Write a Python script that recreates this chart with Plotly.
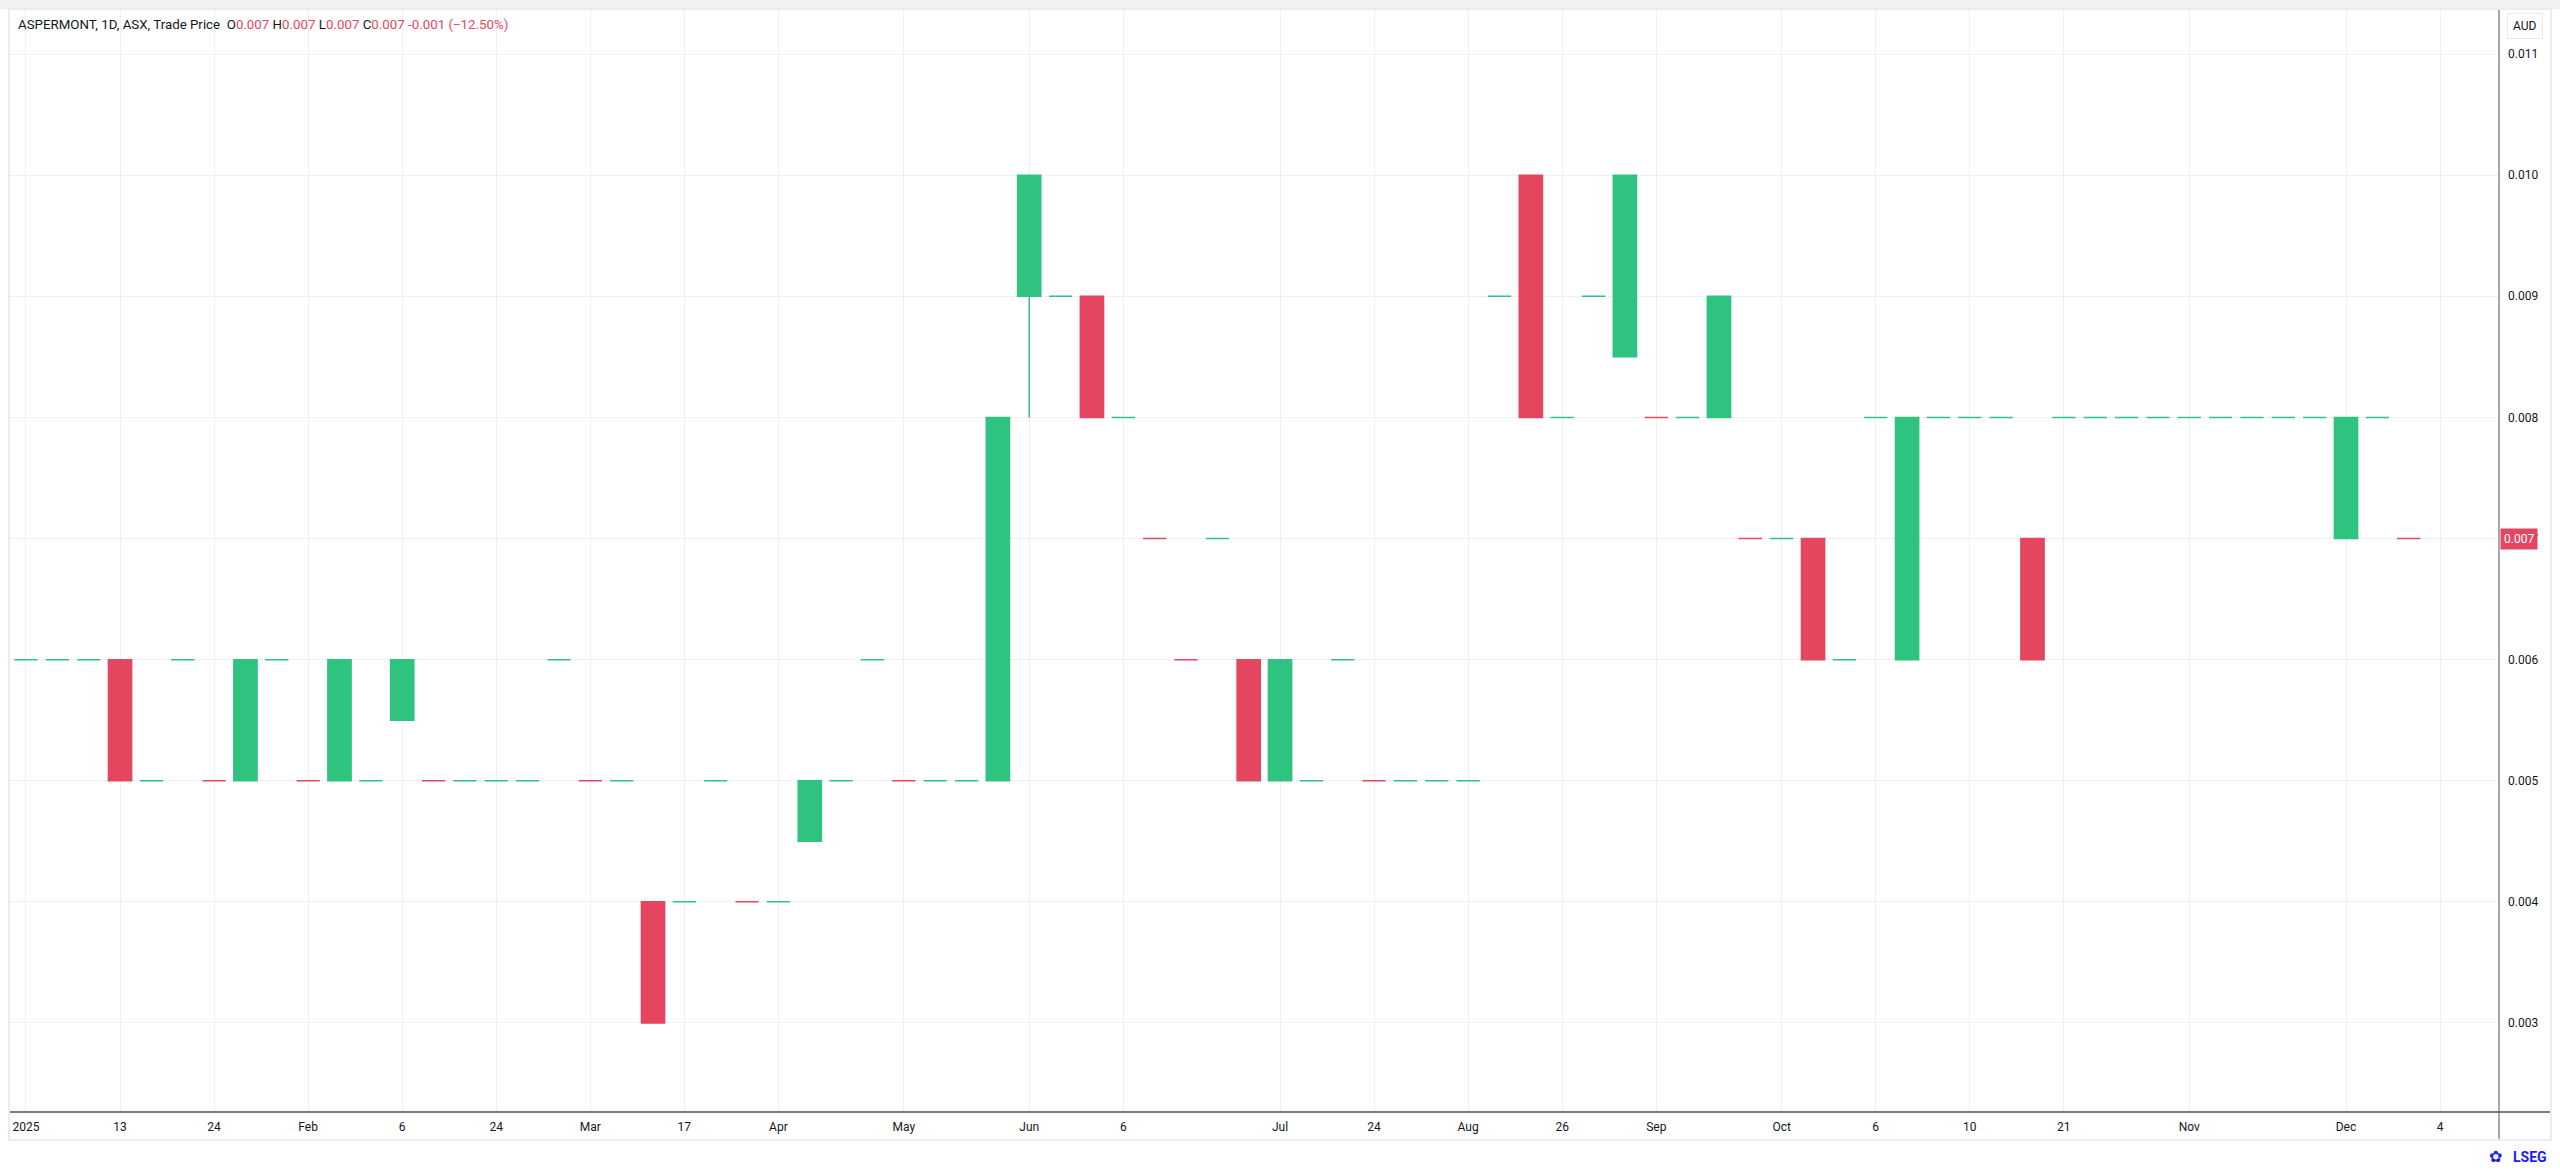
import plotly.graph_objects as go

# ---------------- data (one entry per bar slot) ----------------
slot = list(range(77))
bar_open = [0.006, 0.006, 0.006, 0.006, 0.005, 0.006, 0.005, 0.005, 0.006, 0.005,
            0.005, 0.005, 0.0055, 0.005, 0.005, 0.005, 0.005, 0.006, 0.005, 0.005,
            0.004, 0.004, 0.005, 0.004, 0.004, 0.0045, 0.005, 0.006, 0.005, 0.005,
            0.005, 0.005, 0.009, 0.009, 0.009, 0.008, 0.007, 0.006, 0.007, 0.006,
            0.005, 0.005, 0.006, 0.005, 0.005, 0.005, 0.005, 0.009, 0.010, 0.008,
            0.009, 0.0085, 0.008, 0.008, 0.008, 0.007, 0.007, 0.007, 0.006, 0.008,
            0.006, 0.008, 0.008, 0.008, 0.007, 0.008, 0.008, 0.008, 0.008, 0.008,
            0.008, 0.008, 0.008, 0.008, 0.007, 0.008, 0.007]
bar_high = [0.006, 0.006, 0.006, 0.006, 0.005, 0.006, 0.005, 0.006, 0.006, 0.005,
            0.006, 0.005, 0.006, 0.005, 0.005, 0.005, 0.005, 0.006, 0.005, 0.005,
            0.004, 0.004, 0.005, 0.004, 0.004, 0.005, 0.005, 0.006, 0.005, 0.005,
            0.005, 0.008, 0.010, 0.009, 0.009, 0.008, 0.007, 0.006, 0.007, 0.006,
            0.006, 0.005, 0.006, 0.005, 0.005, 0.005, 0.005, 0.009, 0.010, 0.008,
            0.009, 0.010, 0.008, 0.008, 0.009, 0.007, 0.007, 0.007, 0.006, 0.008,
            0.008, 0.008, 0.008, 0.008, 0.007, 0.008, 0.008, 0.008, 0.008, 0.008,
            0.008, 0.008, 0.008, 0.008, 0.008, 0.008, 0.007]
bar_low = [0.006, 0.006, 0.006, 0.005, 0.005, 0.006, 0.005, 0.005, 0.006, 0.005,
           0.005, 0.005, 0.0055, 0.005, 0.005, 0.005, 0.005, 0.006, 0.005, 0.005,
           0.003, 0.004, 0.005, 0.004, 0.004, 0.0045, 0.005, 0.006, 0.005, 0.005,
           0.005, 0.005, 0.008, 0.009, 0.008, 0.008, 0.007, 0.006, 0.007, 0.005,
           0.005, 0.005, 0.006, 0.005, 0.005, 0.005, 0.005, 0.009, 0.008, 0.008,
           0.009, 0.0085, 0.008, 0.008, 0.008, 0.007, 0.007, 0.006, 0.006, 0.008,
           0.006, 0.008, 0.008, 0.008, 0.006, 0.008, 0.008, 0.008, 0.008, 0.008,
           0.008, 0.008, 0.008, 0.008, 0.007, 0.008, 0.007]
bar_close = [0.006, 0.006, 0.006, 0.005, 0.005, 0.006, 0.005, 0.006, 0.006, 0.005,
             0.006, 0.005, 0.006, 0.005, 0.005, 0.005, 0.005, 0.006, 0.005, 0.005,
             0.003, 0.004, 0.005, 0.004, 0.004, 0.005, 0.005, 0.006, 0.005, 0.005,
             0.005, 0.008, 0.010, 0.009, 0.008, 0.008, 0.007, 0.006, 0.007, 0.005,
             0.006, 0.005, 0.006, 0.005, 0.005, 0.005, 0.005, 0.009, 0.008, 0.008,
             0.009, 0.010, 0.008, 0.008, 0.009, 0.007, 0.007, 0.006, 0.006, 0.008,
             0.008, 0.008, 0.008, 0.008, 0.006, 0.008, 0.008, 0.008, 0.008, 0.008,
             0.008, 0.008, 0.008, 0.008, 0.008, 0.008, 0.007]
# 'u' = drawn green, 'd' = drawn red (10 slots per group)
bar_dir = list("uuuduuduud" "uuuduuuudu" "duuduuuudu" "uuuududdud"
               "uuuduuuudu" "uuduududuu" "uuuuduuuuu" "uuuuuud")

tick_slots = [0, 3, 6, 9, 12, 15, 18, 21, 24, 28, 32, 35, 40, 43, 46, 49, 52, 56,
              59, 62, 65, 69, 74, 77]
tick_text = ["2025", "13", "24", "Feb", "6", "24", "Mar", "17", "Apr", "May", "Jun",
             "6", "Jul", "24", "Aug", "26", "Sep", "Oct", "6", "10", "21", "Nov",
             "Dec", "4"]
price_ticks = [0.003, 0.004, 0.005, 0.006, 0.007, 0.008, 0.009, 0.010, 0.011]
last_price = 0.007

# ---------------- styling ----------------
GREEN = "#2EC47F"
RED = "#E5465F"
TXT = "#131722"
FONT = "Roboto, 'Liberation Sans', Arial, sans-serif"

W, H = 2560, 1170
L, R, T, B = 10, 2499, 9, 1112   # plot area in pixels


def px(xp):
    return (xp - L) / (R - L)


def py(yp):
    return (B - yp) / (B - T)


fig = go.Figure()
for d, col in (("u", GREEN), ("d", RED)):
    idx = [i for i in range(len(slot)) if bar_dir[i] == d]
    fig.add_trace(go.Candlestick(
        x=[slot[i] for i in idx],
        open=[bar_open[i] for i in idx],
        high=[bar_high[i] for i in idx],
        low=[bar_low[i] for i in idx],
        close=[bar_close[i] for i in idx],
        increasing=dict(line=dict(color=col, width=1.5), fillcolor=col),
        decreasing=dict(line=dict(color=col, width=1.5), fillcolor=col),
        whiskerwidth=0,
        hoverinfo="skip",
        showlegend=False,
    ))

shapes = [
    # top grey band
    dict(type="rect", xref="paper", yref="paper", x0=px(-5), x1=px(2565), y0=py(9), y1=py(-2),
         fillcolor="#f2f2f2", line=dict(width=0), layer="above"),
    # panel border
    dict(type="rect", xref="paper", yref="paper", x0=px(9), x1=px(2551), y0=py(1140), y1=py(9),
         line=dict(color="#ececec", width=2), fillcolor="rgba(0,0,0,0)", layer="above"),
    # price-axis line
    dict(type="line", xref="paper", yref="paper", x0=px(2499), x1=px(2499), y0=py(1139), y1=py(10),
         line=dict(color="#6a6d78", width=1.2), layer="above"),
    # time-axis line
    dict(type="line", xref="paper", yref="paper", x0=px(10), x1=px(2550), y0=py(1112), y1=py(1112),
         line=dict(color="#50535e", width=1.5), layer="above"),
]

header = (
    f"<span style='color:{TXT}'>ASPERMONT, 1D, ASX, Trade Price&nbsp;&nbsp;</span>"
    f"<span style='color:{TXT}'>O</span><span style='color:{RED}'>0.007</span>&nbsp;"
    f"<span style='color:{TXT}'>H</span><span style='color:{RED}'>0.007</span>&nbsp;"
    f"<span style='color:{TXT}'>L</span><span style='color:{RED}'>0.007</span>&nbsp;"
    f"<span style='color:{TXT}'>C</span><span style='color:{RED}'>0.007</span>&nbsp;"
    f"<span style='color:{RED}'>-0.001 (−12.50%)</span>"
)

annotations = [
    dict(xref="paper", yref="paper", x=px(16), y=py(24), xanchor="left", yanchor="middle",
         text=header, showarrow=False, font=dict(family=FONT, size=13.3, color=TXT)),
    dict(xref="paper", yref="paper", x=px(2524.5), y=py(26.5), xanchor="center", yanchor="middle",
         text="AUD", showarrow=False, font=dict(family=FONT, size=12, color=TXT),
         bgcolor="white", bordercolor="#e6e8ee", borderwidth=1, borderpad=5),
    dict(xref="paper", yref="y", x=px(2500), y=last_price, xanchor="left", yanchor="middle",
         text=f"{last_price:.3f}", showarrow=False,
         font=dict(family=FONT, size=12, color="white"),
         bgcolor=RED, borderpad=3),
    dict(xref="paper", yref="paper", x=px(2504), y=py(1156), xanchor="right", yanchor="middle",
         text="✿", showarrow=False,
         font=dict(family="DejaVu Sans", size=16, color="#1a1aff")),
    dict(xref="paper", yref="paper", x=px(2549), y=py(1157), xanchor="right", yanchor="middle",
         text="<b>LSEG</b>", showarrow=False, font=dict(family=FONT, size=14, color="#1a1aff")),
]

fig.update_layout(
    width=W, height=H,
    margin=dict(l=L, r=W - R, t=T, b=H - B, pad=0),
    paper_bgcolor="white", plot_bgcolor="white",
    boxmode="overlay", boxgap=0.26, boxgroupgap=0,
    font=dict(family=FONT, size=12, color=TXT),
    shapes=shapes, annotations=annotations,
    xaxis=dict(
        range=[-0.51, 78.88], tickmode="array", tickvals=tick_slots, ticktext=tick_text,
        showgrid=True, gridcolor="#f0f0f0", gridwidth=1, zeroline=False,
        showline=False, ticks="", ticklabelstandoff=6,
        tickfont=dict(family=FONT, size=12, color=TXT),
        rangeslider=dict(visible=False), fixedrange=True,
    ),
    yaxis=dict(
        side="right", range=[0.002265, 0.011372], tickmode="array", tickvals=price_ticks,
        ticktext=[f"{v:.3f}" for v in price_ticks],
        showgrid=True, gridcolor="#f0f0f0", gridwidth=1, zeroline=False,
        showline=False, ticks="", ticklabelstandoff=8,
        tickfont=dict(family=FONT, size=12, color=TXT), fixedrange=True,
    ),
)

fig.write_html("out.html", config={"displayModeBar": False},
               post_script="document.body.style.margin='0';document.body.style.overflow='hidden';")
